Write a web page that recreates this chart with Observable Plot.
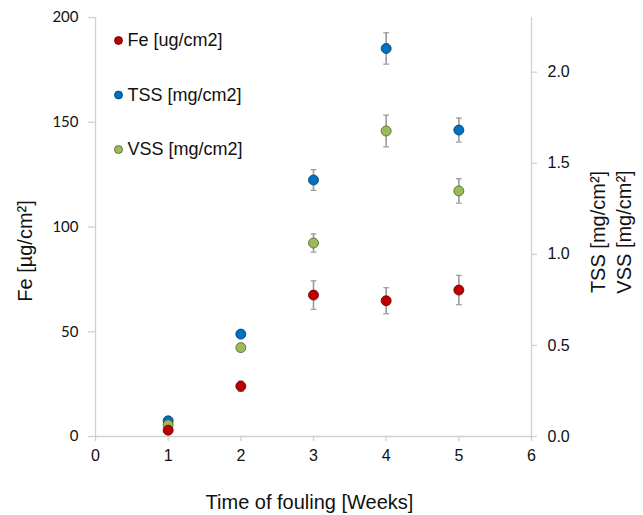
<!DOCTYPE html>
<html>
<head>
<meta charset="utf-8">
<script src="https://cdn.jsdelivr.net/npm/d3@7"></script>
<script src="https://cdn.jsdelivr.net/npm/@observablehq/plot@0.6"></script>
<style>
  body { margin: 0; background: #fff; }
  #chart svg { display: block; }
</style>
</head>
<body>
<div id="chart"></div>
<script>
// Sampling times (weeks of fouling)
const weeks = [1, 2, 3, 4, 5];

// Iron deposit, µg/cm² (left axis) with standard deviations
const fe = [3, 24, 67.5, 64.8, 69.9];
const feErr = [1, 2.5, 6.8, 6.2, 7];

// Total and volatile suspended solids, mg/cm² (right axis)
const tss = [0.086, 0.562, 1.408, 2.13, 1.682];
const tssErr = [0.01, 0.012, 0.057, 0.086, 0.066];
const vss = [0.064, 0.488, 1.062, 1.677, 1.348];
const vssErr = [0.01, 0.012, 0.05, 0.087, 0.067];

// Axis ticks
const xTicks = [0, 1, 2, 3, 4, 5, 6];
const leftTicks = [0, 50, 100, 150, 200];
const rightTicks = [0, 0.5, 1, 1.5, 2];

const leftMax = 200;
const rightMax = 2.3;
const k = leftMax / rightMax; // right-axis units -> left-axis units

const series = [
  {name: "Fe [ug/cm2]", fill: "#C00000", stroke: "#5a0000", values: fe, errs: feErr, scale: 1},
  {name: "TSS [mg/cm2]", fill: "#0070C0", stroke: "#003a66", values: tss, errs: tssErr, scale: k},
  {name: "VSS [mg/cm2]", fill: "#9BBB59", stroke: "#4d5e2c", values: vss, errs: vssErr, scale: k}
];

const rows = series.flatMap((s, si) => weeks.map((w, i) => ({
  series: s.name, si, week: w,
  y: s.values[i] * s.scale,
  lo: (s.values[i] - s.errs[i]) * s.scale,
  hi: (s.values[i] + s.errs[i]) * s.scale,
  fill: s.fill, stroke: s.stroke
})));

const axisColor = "#d0d0d0";
const sans = "'Liberation Sans', Arial, sans-serif";
const capW = 0.04;

// draw order: TSS, VSS, then Fe on top
const drawOrder = [1, 2, 0];

const marks = [
  // axis lines
  Plot.ruleY([0], {stroke: axisColor, strokeWidth: 1.3}),
  Plot.ruleX([0], {stroke: axisColor, strokeWidth: 1.3}),
  Plot.ruleX([6], {stroke: axisColor, strokeWidth: 1.3}),
  Plot.axisX({ticks: xTicks, tickSize: 5, tickPadding: 8, stroke: axisColor, strokeWidth: 1.3,
    fill: "#111", fontSize: 16, fontFamily: sans, label: null, tickFormat: d => String(d)}),
  Plot.axisY({ticks: leftTicks, anchor: "left", tickSize: 7, tickPadding: 10, stroke: axisColor, strokeWidth: 1.3,
    fill: "#111", fontSize: 15, fontFamily: "Lato, 'Open Sans', sans-serif", label: null, tickFormat: d => String(d)}),
  Plot.axisY({ticks: rightTicks.map(v => v * k), anchor: "right", tickSize: 5, tickPadding: 11, stroke: axisColor, strokeWidth: 1.3,
    fill: "#111", fontSize: 16, fontFamily: sans, label: null, tickFormat: d => (d / k).toFixed(1)}),
];

for (const si of drawOrder) {
  const data = rows.filter(d => d.si === si);
  marks.push(
    Plot.ruleX(data, {x: "week", y1: "lo", y2: "hi", stroke: "#9a9a9a", strokeWidth: 1.6}),
    Plot.link(data, {x1: d => d.week - capW, x2: d => d.week + capW, y1: "lo", y2: "lo", stroke: "#9a9a9a", strokeWidth: 1.2}),
    Plot.link(data, {x1: d => d.week - capW, x2: d => d.week + capW, y1: "hi", y2: "hi", stroke: "#9a9a9a", strokeWidth: 1.2}),
    Plot.dot(data, {x: "week", y: "y", r: 5, fill: "fill", stroke: "stroke", strokeWidth: 0.8})
  );
}

// legend inside the frame
series.forEach((s, i) => {
  marks.push(
    Plot.dot([s], {frameAnchor: "top-left", dx: 23, dy: 23 + i * 54.5, r: 4, fill: s.fill, stroke: s.stroke, strokeWidth: 0.8}),
    Plot.text([s.name], {frameAnchor: "top-left", dx: 32, dy: 23 + i * 54.5, text: d => d, textAnchor: "start",
      lineAnchor: "middle", fontSize: 18, fontFamily: sans, fill: "#111"})
  );
});

// axis titles
marks.push(
  Plot.text(["Time of fouling [Weeks]"], {frameAnchor: "bottom", dx: -4, dy: 72, text: d => d, fontSize: 20, fontFamily: sans, fill: "#111"}),
  Plot.text(["Fe [µg/cm²]"], {frameAnchor: "left", dx: -70, dy: 24, rotate: -90, textAnchor: "middle", lineAnchor: "middle",
    text: d => d, fontSize: 20, fontFamily: sans, fill: "#111"}),
  Plot.text(["TSS [mg/cm²]"], {frameAnchor: "right", dx: 67, dy: 5, rotate: -90, textAnchor: "middle", lineAnchor: "middle",
    text: d => d, fontSize: 20, fontFamily: sans, fill: "#111"}),
  Plot.text(["VSS [mg/cm²]"], {frameAnchor: "right", dx: 93, dy: 5, rotate: -90, textAnchor: "middle", lineAnchor: "middle",
    text: d => d, fontSize: 20, fontFamily: sans, fill: "#111"})
);

const chart = Plot.plot({
  width: 643,
  height: 515,
  marginLeft: 95,
  marginRight: 112,
  marginTop: 17,
  marginBottom: 79,
  x: {domain: [0, 6]},
  y: {domain: [0, leftMax]},
  style: {background: "#fff", overflow: "visible"},
  marks
});

document.getElementById("chart").append(chart);
</script>
</body>
</html>
